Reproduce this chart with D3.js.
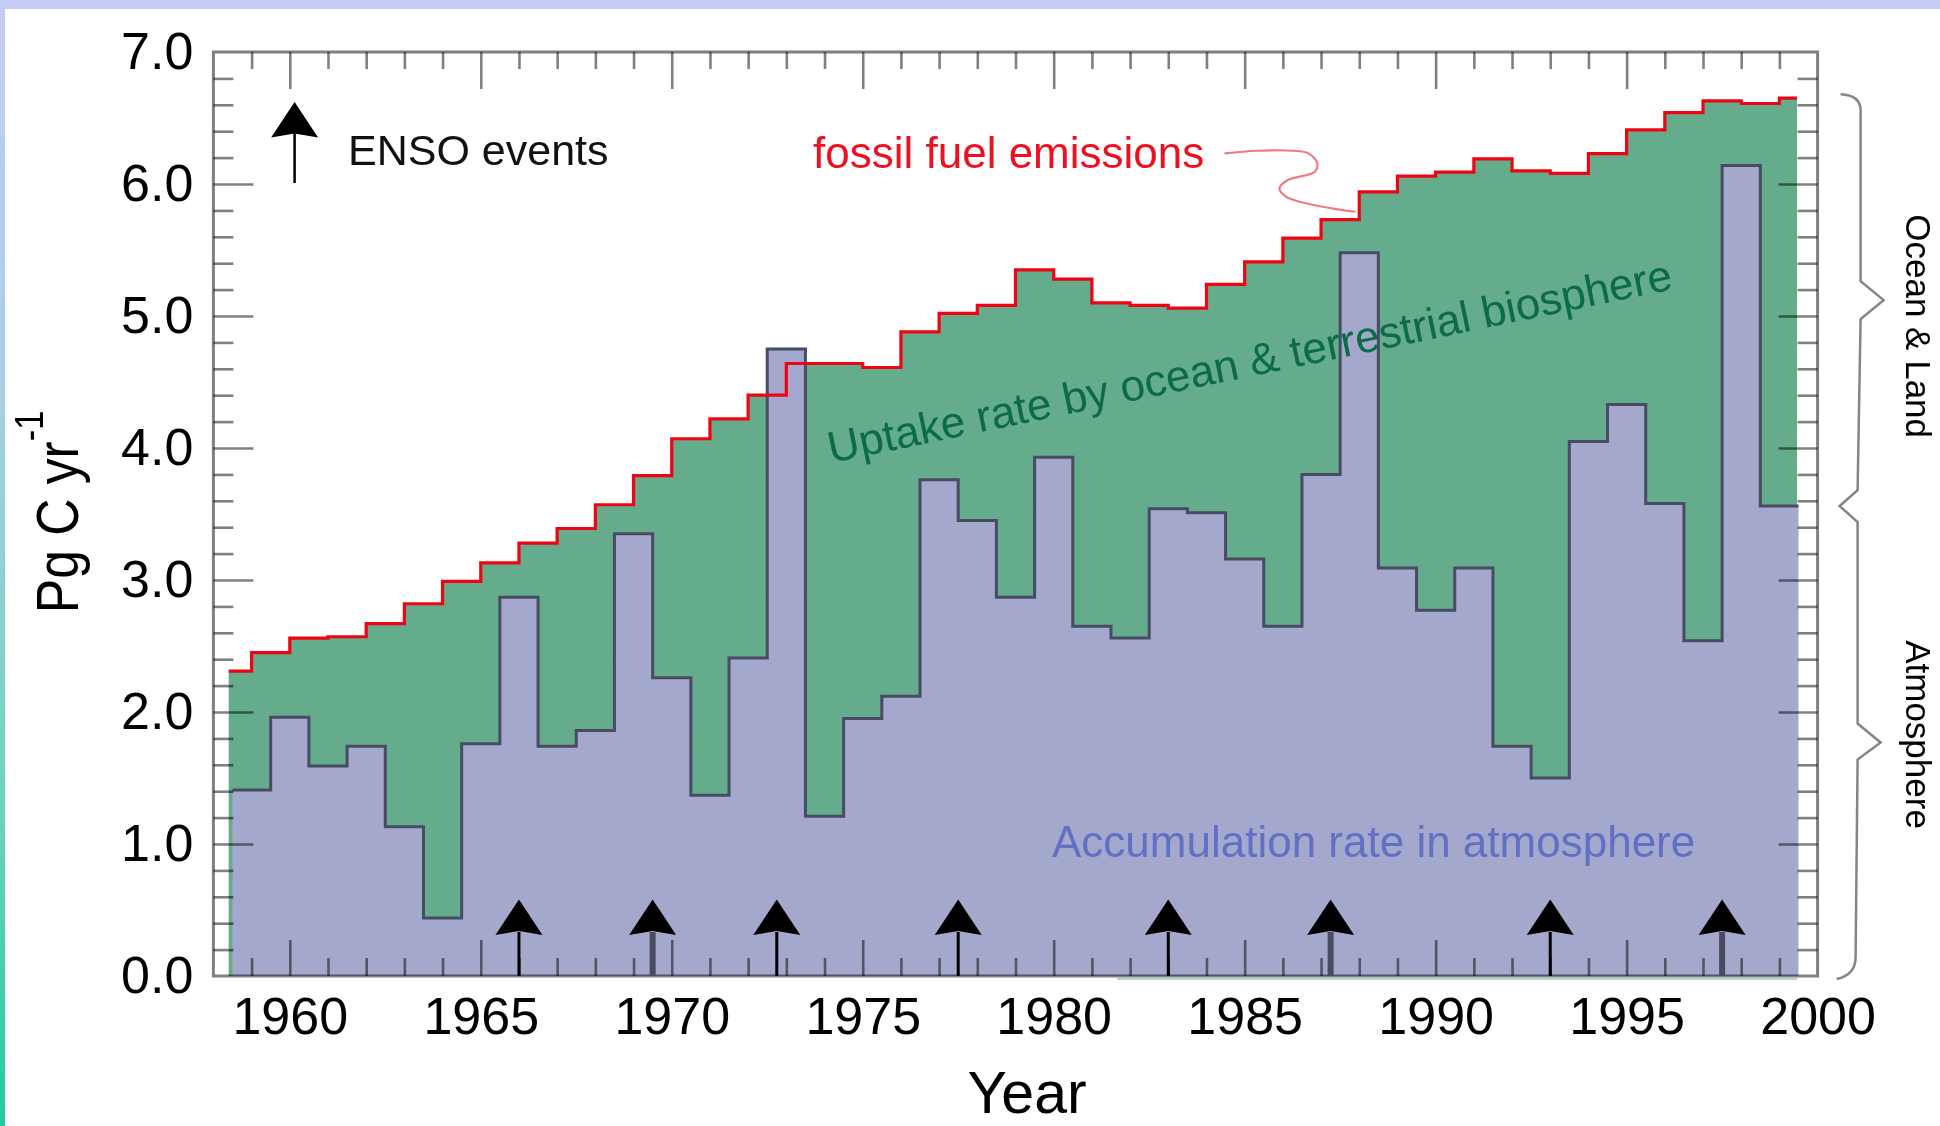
<!DOCTYPE html>
<html>
<head>
<meta charset="utf-8">
<script src="https://cdn.jsdelivr.net/npm/d3@7"></script>
<style>
  html, body { margin: 0; padding: 0; background: #ffffff; }
  svg { display: block; }
  text { font-family: "Liberation Sans", Arial, Helvetica, sans-serif; }
</style>
</head>
<body>
<svg id="chart" width="1940" height="1126"></svg>
<script>
// ---------------- DATA ----------------
// Fossil fuel emissions (Pg C / yr), one value per calendar year [year, year+1]
const fossilYears = [1958,1959,1960,1961,1962,1963,1964,1965,1966,1967,1968,1969,1970,1971,1972,1973,1974,1975,1976,1977,1978,1979,1980,1981,1982,1983,1984,1985,1986,1987,1988,1989,1990,1991,1992,1993,1994,1995,1996,1997,1998,1999];
const fossilValues = [2.31,2.45,2.56,2.57,2.67,2.82,2.99,3.13,3.28,3.39,3.57,3.79,4.07,4.22,4.40,4.64,4.64,4.61,4.88,5.02,5.08,5.35,5.28,5.10,5.08,5.06,5.24,5.41,5.59,5.73,5.94,6.06,6.09,6.19,6.10,6.08,6.23,6.41,6.54,6.63,6.61,6.65];

// Atmospheric accumulation rate (Pg C / yr), centred on each year [year-0.5, year+0.5]
const atmYears = [1959,1960,1961,1962,1963,1964,1965,1966,1967,1968,1969,1970,1971,1972,1973,1974,1975,1976,1977,1978,1979,1980,1981,1982,1983,1984,1985,1986,1987,1988,1989,1990,1991,1992,1993,1994,1995,1996,1997,1998,1999];
const atmValues = [1.41,1.96,1.59,1.74,1.13,0.44,1.76,2.87,1.74,1.86,3.35,2.26,1.37,2.41,4.75,1.21,1.95,2.12,3.76,3.45,2.87,3.93,2.65,2.56,3.54,3.51,3.16,2.65,3.80,5.48,3.09,2.77,3.09,1.74,1.50,4.05,4.33,3.58,2.54,6.14,3.56];

// record limits (decimal years)
const fossilPeriod = [1958.4, 1999.46];
const atmPeriod = [1958.45, 1999.5];

// ENSO events (decimal years)
const ensoYears = [1966.0, 1969.5, 1972.75, 1977.5, 1983.0, 1987.25, 1993.0, 1997.5];
const ensoWideShaft = [1969.5, 1987.25, 1997.5];

// axis ticks
const xMajorTicks = [1960, 1965, 1970, 1975, 1980, 1985, 1990, 1995, 2000];
const xMinorTicks = d3.range(1959, 2000).filter(v => v % 5 !== 0);
const yMajorTicks = [0, 1, 2, 3, 4, 5, 6, 7];
const yMinorTicks = d3.range(1, 35).map(i => +(i * 0.2).toFixed(1)).filter(v => Math.abs(v - Math.round(v)) > 1e-6);

// leader curve of the "fossil fuel emissions" label (year, value)
const leaderPoints = [[1984.47,6.232],[1985.32,6.252],[1986.26,6.252],[1986.67,6.232],[1986.90,6.157],[1986.84,6.093],[1986.13,6.03],[1985.91,5.967],[1986.08,5.904],[1986.60,5.854],[1987.43,5.808],[1987.9,5.79]];

// ---------------- LAYOUT ----------------
const svg = d3.select("#chart");
const W = 1940, H = 1126;
const plot = { left: 213.4, right: 1817.6, top: 52, bottom: 976 };
const x = d3.scaleLinear().domain([1958, 2000]).range([plot.left, plot.right]);
const y = d3.scaleLinear().domain([0, 7]).range([plot.bottom, plot.top]);

// ---------------- PAGE DECORATION ----------------
const defs = svg.append("defs");
const grad = defs.append("linearGradient").attr("id", "edge").attr("x1", 0).attr("y1", 0).attr("x2", 0).attr("y2", 1);
grad.append("stop").attr("offset", 0).attr("stop-color", "#c5cbf5");
grad.append("stop").attr("offset", 0.35).attr("stop-color", "#a8cfe2");
grad.append("stop").attr("offset", 0.7).attr("stop-color", "#70d3be");
grad.append("stop").attr("offset", 1).attr("stop-color", "#22cc9a");
svg.append("rect").attr("x", 0).attr("y", 0).attr("width", W).attr("height", H).attr("fill", "#ffffff");
svg.append("rect").attr("x", 0).attr("y", 0).attr("width", W).attr("height", 9).attr("fill", "#c5cbf5");
svg.append("rect").attr("x", 0).attr("y", 0).attr("width", 5).attr("height", H).attr("fill", "url(#edge)");

// ---------------- STEP SERIES ----------------
const fossilPts = [];
fossilYears.forEach((yr, i) => {
  const x0 = Math.max(yr, fossilPeriod[0]), x1 = Math.min(yr + 1, fossilPeriod[1]);
  fossilPts.push([x0, fossilValues[i]], [x1, fossilValues[i]]);
});
const atmPts = [];
atmYears.forEach((yr, i) => {
  const x0 = Math.max(yr - 0.5, atmPeriod[0]), x1 = Math.min(yr + 0.5, atmPeriod[1]);
  atmPts.push([x0, atmValues[i]], [x1, atmValues[i]]);
});

const area = d3.area().x(d => x(d[0])).y0(y(0)).y1(d => y(d[1]));
const line = d3.line().x(d => x(d[0])).y(d => y(d[1]));

// uptake (green) = area under fossil fuel curve
svg.append("path").attr("d", area(fossilPts)).attr("fill", "#64ac8b");
// accumulation in atmosphere (purple)
svg.append("path").attr("d", area(atmPts)).attr("fill", "#a5a8cd");
svg.append("path").attr("d", line(atmPts)).attr("fill", "none")
  .attr("stroke", "#474b63").attr("stroke-width", 3).attr("stroke-linejoin", "miter");

// faint mint line under the axis
svg.append("line")
  .attr("x1", x(1981.66)).attr("x2", x(fossilPeriod[1]))
  .attr("y1", y(0) + 3).attr("y2", y(0) + 3)
  .attr("stroke", "#a9dcc6").attr("stroke-width", 2);

// fossil fuel line (red)
svg.append("path").attr("d", line(fossilPts)).attr("fill", "none")
  .attr("stroke", "#ee0412").attr("stroke-width", 3.2).attr("stroke-linejoin", "miter");

// ---------------- AXES (ticks inside, frame) ----------------
const tickColor = "#808080";
function tickAxis(axis, tx, ty) {
  const g = svg.append("g").attr("transform", `translate(${tx},${ty})`)
    .style("mix-blend-mode", "multiply").call(axis);
  g.select(".domain").remove();
  g.selectAll(".tick line").attr("stroke", tickColor).attr("stroke-width", 2.6);
  g.selectAll(".tick text").remove();
  return g;
}
const xMajInner = xMajorTicks.filter(v => v < 2000);
tickAxis(d3.axisTop(x).tickValues(xMajInner).tickSize(-37), 0, plot.top);
tickAxis(d3.axisTop(x).tickValues(xMinorTicks).tickSize(-17), 0, plot.top);
tickAxis(d3.axisBottom(x).tickValues(xMajInner).tickSize(-36), 0, plot.bottom);
tickAxis(d3.axisBottom(x).tickValues(xMinorTicks).tickSize(-18), 0, plot.bottom);
const yMajInner = yMajorTicks.filter(v => v > 0 && v < 7);
tickAxis(d3.axisLeft(y).tickValues(yMajInner).tickSize(-40), plot.left, 0);
tickAxis(d3.axisLeft(y).tickValues(yMinorTicks).tickSize(-20), plot.left, 0);
tickAxis(d3.axisRight(y).tickValues(yMajInner).tickSize(-39), plot.right, 0);
tickAxis(d3.axisRight(y).tickValues(yMinorTicks).tickSize(-20), plot.right, 0);

svg.append("rect")
  .attr("x", plot.left).attr("y", plot.top)
  .attr("width", plot.right - plot.left).attr("height", plot.bottom - plot.top)
  .attr("fill", "none").attr("stroke", tickColor).attr("stroke-width", 3)
  .style("mix-blend-mode", "multiply");

// tick labels
const yLab = svg.append("g").attr("transform", `translate(${plot.left},0)`)
  .call(d3.axisLeft(y).tickValues(yMajorTicks).tickSize(0).tickPadding(20).tickFormat(d3.format(".1f")));
yLab.select(".domain").remove();
yLab.attr("font-family", null).attr("font-size", null);
yLab.selectAll("text").attr("font-size", 52).attr("fill", "#000");

const xLab = svg.append("g").attr("transform", `translate(0,${plot.bottom})`)
  .call(d3.axisBottom(x).tickValues(xMajorTicks).tickSize(0).tickPadding(21).tickFormat(d3.format("d")));
xLab.select(".domain").remove();
xLab.attr("font-family", null).attr("font-size", null);
xLab.selectAll("text").attr("font-size", 52).attr("fill", "#000");

// axis titles
svg.append("text").attr("x", 1027).attr("y", 1113)
  .attr("text-anchor", "middle").attr("font-size", 59).attr("fill", "#000").text("Year");

const yt = svg.append("text")
  .attr("transform", "translate(78,512) rotate(-90) scale(0.86,1)")
  .attr("text-anchor", "middle").attr("font-size", 60).attr("fill", "#000");
yt.append("tspan").text("Pg C yr");
yt.append("tspan").attr("font-size", 40).attr("dy", -35).text("-1");

// ---------------- ENSO ARROWS ----------------
const headPath = "M0,-35.5 L23.5,0 L0,-4 L-23.5,0 Z";
const enso = svg.append("g");
ensoYears.forEach(yr => {
  const wide = ensoWideShaft.includes(yr);
  const cx = x(yr), base = y(0);
  enso.append("line").attr("x1", cx).attr("x2", cx).attr("y1", base).attr("y2", base - 44)
    .attr("stroke", wide ? "#4a4b62" : "#000").attr("stroke-width", wide ? 6 : 3);
  enso.append("path").attr("d", headPath)
    .attr("transform", `translate(${cx},${base - 41})`).attr("fill", "#000");
});

// legend arrow
svg.append("line").attr("x1", 294.6).attr("x2", 294.6).attr("y1", 183).attr("y2", 132)
  .attr("stroke", "#000").attr("stroke-width", 2.5);
svg.append("path").attr("d", headPath).attr("transform", "translate(294.6,137.5)").attr("fill", "#000");
svg.append("text").attr("x", 348).attr("y", 165).attr("font-size", 43).attr("fill", "#111").text("ENSO events");

// ---------------- ANNOTATIONS ----------------
svg.append("text").attr("x", 813).attr("y", 168).attr("font-size", 44).attr("fill", "#ee1020")
  .text("fossil fuel emissions");
svg.append("path")
  .attr("d", d3.line().x(d => x(d[0])).y(d => y(d[1])).curve(d3.curveCatmullRom)(leaderPoints))
  .attr("fill", "none").attr("stroke", "#f07a80").attr("stroke-width", 2.2);

svg.append("text")
  .attr("transform", "translate(831,463) rotate(-11.66)")
  .attr("font-size", 44).attr("fill", "#0b6b4a")
  .text("Uptake rate by ocean & terrestrial biosphere");

svg.append("text").attr("x", 1052).attr("y", 857).attr("font-size", 44).attr("fill", "#6070c4")
  .text("Accumulation rate in atmosphere");

// ---------------- RIGHT BRACES ----------------
const lastFossil = fossilValues[fossilValues.length - 1];
const lastAtm = atmValues[atmValues.length - 1];
const yTop = y(lastFossil) - 4, yJ = y(lastAtm), yBot = y(0) + 3;
const mTop = (yTop + yJ) / 2, mBot = (yJ + yBot) / 2;
const xv = plot.right + 43;
const brace = d3.path();
brace.moveTo(xv - 20, yTop);
brace.quadraticCurveTo(xv, yTop + 1, xv, yTop + 16);
brace.lineTo(xv, mTop - 19);
brace.lineTo(xv + 23, mTop);
brace.lineTo(xv, mTop + 19);
brace.lineTo(xv - 3, yJ - 16);
brace.lineTo(xv - 21, yJ);
brace.lineTo(xv - 3, yJ + 16);
brace.lineTo(xv - 3, mBot - 19);
brace.lineTo(xv + 20, mBot);
brace.lineTo(xv - 3, mBot + 17);
brace.lineTo(xv - 5, yBot - 22);
brace.quadraticCurveTo(xv - 5, yBot - 4, xv - 24, yBot);
svg.append("path").attr("d", brace.toString()).attr("fill", "none")
  .attr("stroke", "#858585").attr("stroke-width", 2.5);

svg.append("text").attr("transform", `translate(1906,${mTop + 26}) rotate(90)`)
  .attr("text-anchor", "middle").attr("font-size", 35).attr("fill", "#000").text("Ocean & Land");
svg.append("text").attr("transform", `translate(1906,${mBot - 8}) rotate(90)`)
  .attr("text-anchor", "middle").attr("font-size", 35).attr("fill", "#000").text("Atmosphere");
</script>
</body>
</html>
